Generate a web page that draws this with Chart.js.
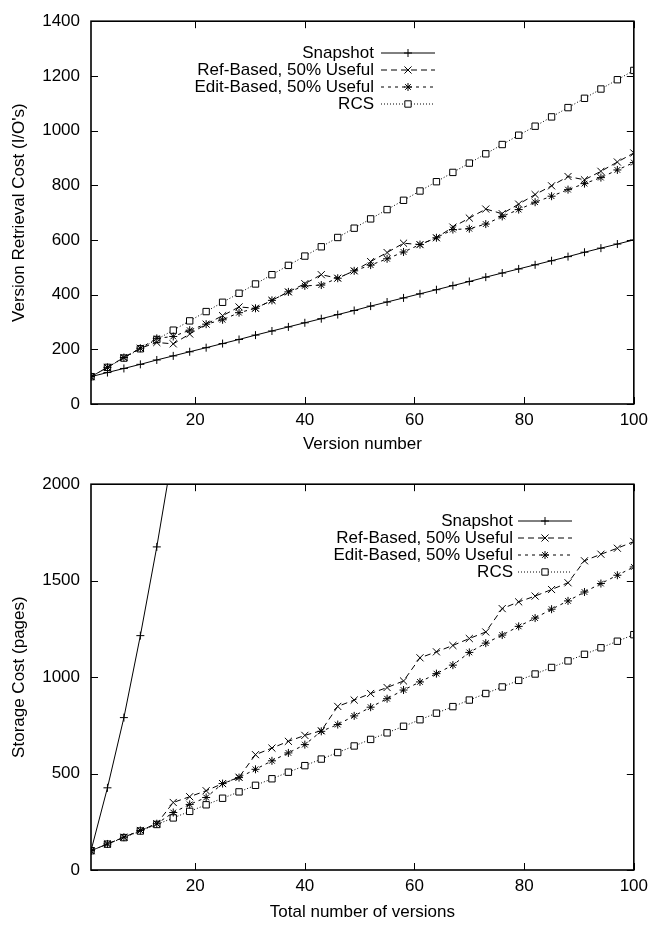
<!DOCTYPE html>
<html>
<head>
<meta charset="utf-8">
<script src="https://cdn.jsdelivr.net/npm/chart.js@4.4.0/dist/chart.umd.min.js"></script>
<style>
  html, body { margin: 0; padding: 0; background: #fff; }
  canvas { display: block; }
</style>
</head>
<body>
<canvas id="retrieval" width="654" height="463"></canvas>
<canvas id="storage" width="654" height="463"></canvas>
<script>
// Data (a marker every 3 versions)
const versions = [1, 4, 7, 10, 13, 16, 19, 22, 25, 28, 31, 34, 37, 40, 43, 46, 49, 52, 55, 58,
  61, 64, 67, 70, 73, 76, 79, 82, 85, 88, 91, 94, 97, 100];
const seriesNames = ["Snapshot", "Ref-Based, 50% Useful", "Edit-Based, 50% Useful", "RCS"];
const xTickValues = [20, 40, 60, 80, 100];

// Top panel: version retrieval cost (I/O's)
const snapshotRetrieval = [100, 115, 130, 145, 161, 176, 191, 206, 221, 236, 252, 267, 282, 297, 312, 327, 342, 358, 373, 388,
  403, 418, 433, 448, 464, 479, 494, 509, 524, 539, 555, 570, 585, 600];
const refRetrieval = [100, 134, 170, 204, 225, 220, 256, 292, 323, 355, 350, 379, 410, 440, 473, 460, 487, 521, 554, 588,
  583, 608, 647, 680, 713, 696, 731, 766, 798, 832, 820, 851, 885, 918];
const editRetrieval = [100, 134, 170, 204, 240, 247, 270, 292, 308, 334, 350, 379, 410, 432, 435, 460, 487, 508, 531, 556,
  583, 608, 638, 641, 658, 686, 711, 738, 760, 784, 806, 828, 856, 883];
const rcsRetrieval = [100, 134, 168, 202, 236, 270, 304, 338, 372, 405, 439, 473, 507, 541, 575, 609, 643, 677, 711, 745,
  779, 813, 847, 881, 915, 949, 983, 1016, 1050, 1084, 1118, 1152, 1186, 1220];

// Bottom panel: storage cost (pages)
const snapshotStorage = [100, 426, 790, 1215, 1675, 2180];
const refStorage = [100, 135, 170, 205, 240, 350, 380, 411, 448, 481, 598, 632, 667, 698, 722, 848, 881, 915, 946, 980,
  1100, 1131, 1164, 1200, 1234, 1355, 1390, 1420, 1454, 1489, 1603, 1637, 1668, 1703];
const editStorage = [100, 135, 170, 205, 240, 298, 340, 376, 448, 479, 522, 566, 607, 650, 719, 754, 799, 844, 888, 933,
  975, 1018, 1062, 1128, 1176, 1218, 1263, 1306, 1352, 1395, 1441, 1485, 1528, 1571];
const rcsStorage = [100, 134, 168, 202, 236, 270, 304, 338, 372, 405, 439, 473, 507, 541, 575, 609, 643, 677, 711, 745,
  779, 813, 847, 881, 915, 949, 983, 1016, 1050, 1084, 1118, 1152, 1186, 1220];

const FONT = "'Liberation Sans', Arial, sans-serif";
Chart.defaults.font.family = FONT;
Chart.defaults.font.size = 17;
Chart.defaults.color = "#000";

// line / marker look of each series (gnuplot lt 1..4)
const looks = [
  { borderDash: [], pointStyle: "cross", pointRadius: 4, pointBackgroundColor: "#000" },
  { borderDash: [6, 4], pointStyle: "crossRot", pointRadius: 5, pointBackgroundColor: "#000" },
  { borderDash: [3, 4], pointStyle: "star", pointRadius: 4, pointBackgroundColor: "#000" },
  { borderDash: [1, 2], pointStyle: "rect", pointRadius: 4.5, pointBackgroundColor: "#fff" },
];

function makeSet(i, ys) {
  return Object.assign({
    label: seriesNames[i],
    data: ys.map((y, k) => ({ x: versions[k], y: y })),
    borderColor: "#000",
    borderWidth: 1,
    pointBorderColor: "#000",
    pointBorderWidth: 1,
    pointHoverRadius: 0,
    fill: false,
    tension: 0,
  }, looks[i]);
}

// gnuplot style key: text right aligned, sample line with marker on its right
const keyPlugin = {
  id: "gnuKey",
  afterDatasetsDraw(chart, args, opts) {
    const ctx = chart.ctx;
    ctx.save();
    chart.data.datasets.forEach((ds, i) => {
      const y = opts.top + i * opts.step;
      ctx.font = "17px " + FONT;
      ctx.fillStyle = "#000";
      ctx.textAlign = "right";
      ctx.textBaseline = "middle";
      ctx.fillText(ds.label, opts.textRight, y);
      ctx.strokeStyle = "#000";
      ctx.lineWidth = 1;
      ctx.setLineDash(ds.borderDash);
      ctx.beginPath();
      ctx.moveTo(opts.lineStart, y);
      ctx.lineTo(opts.lineEnd, y);
      ctx.stroke();
      ctx.setLineDash([]);
      ctx.fillStyle = ds.pointBackgroundColor;
      Chart.helpers.drawPoint(ctx, {
        pointStyle: ds.pointStyle, radius: ds.pointRadius, borderWidth: 1, rotation: 0,
      }, (opts.lineStart + opts.lineEnd) / 2, y);
    });
    ctx.restore();
  },
};

// full border box with inward ticks on all four sides
const framePlugin = {
  id: "gnuFrame",
  afterDatasetsDraw(chart) {
    const { ctx, chartArea: a, scales } = chart;
    const len = 7;
    ctx.save();
    ctx.strokeStyle = "#000";
    ctx.lineWidth = 1;
    ctx.beginPath();
    scales.x.ticks.forEach((t) => {
      const px = Math.round(scales.x.getPixelForValue(t.value)) + 0.5;
      ctx.moveTo(px, a.bottom); ctx.lineTo(px, a.bottom - len);
      ctx.moveTo(px, a.top); ctx.lineTo(px, a.top + len);
    });
    scales.y.ticks.forEach((t) => {
      const py = Math.round(scales.y.getPixelForValue(t.value)) + 0.5;
      ctx.moveTo(a.left, py); ctx.lineTo(a.left + len, py);
      ctx.moveTo(a.right, py); ctx.lineTo(a.right - len, py);
    });
    ctx.stroke();
    ctx.lineWidth = 1.6;
    ctx.strokeRect(a.left, a.top, a.right - a.left, a.bottom - a.top);
    ctx.restore();
  },
};

function makeChart(id, cfg) {
  return new Chart(document.getElementById(id), {
    type: "line",
    data: { datasets: cfg.datasets },
    options: {
      responsive: false,
      animation: false,
      events: [],
      layout: { padding: { top: cfg.padTop, right: 18, left: 0, bottom: 0 } },
      plugins: {
        legend: { display: false },
        tooltip: { enabled: false },
        gnuKey: cfg.key,
      },
      scales: {
        x: {
          type: "linear",
          min: 1,
          max: 100,
          afterBuildTicks: (s) => { s.ticks = xTickValues.map((v) => ({ value: v })); },
          afterFit: (s) => { s.height = cfg.xHeight; },
          grid: { display: false, drawTicks: false },
          border: { display: false },
          ticks: { padding: 6, maxRotation: 0, autoSkip: false, callback: (v) => String(v) },
          title: { display: true, text: cfg.xTitle, padding: { top: 0, bottom: cfg.xTitlePad } },
        },
        y: {
          min: 0,
          max: cfg.yMax,
          afterFit: (s) => { s.width = 91; },
          grid: { display: false, drawTicks: false },
          border: { display: false },
          ticks: { stepSize: cfg.yStep, padding: 11, callback: (v) => String(v) },
          title: { display: true, text: cfg.yTitle, padding: { top: 9, bottom: 0 } },
        },
      },
    },
    plugins: [framePlugin, keyPlugin],
  });
}

makeChart("retrieval", {
  datasets: [
    makeSet(0, snapshotRetrieval),
    makeSet(1, refRetrieval),
    makeSet(2, editRetrieval),
    makeSet(3, rcsRetrieval),
  ],
  padTop: 15,
  xHeight: 59,
  xTitle: "Version number",
  xTitlePad: 8,
  yTitle: "Version Retrieval Cost (I/O's)",
  yMax: 1400,
  yStep: 200,
  key: { top: 53, step: 17, textRight: 374, lineStart: 381, lineEnd: 435 },
});

makeChart("storage", {
  datasets: [
    makeSet(0, snapshotStorage),
    makeSet(1, refStorage),
    makeSet(2, editStorage),
    makeSet(3, rcsStorage),
  ],
  padTop: 20,
  xHeight: 56,
  xTitle: "Total number of versions",
  xTitlePad: 3,
  yTitle: "Storage Cost (pages)",
  yMax: 2000,
  yStep: 500,
  key: { top: 58, step: 17, textRight: 513, lineStart: 518, lineEnd: 572 },
});
</script>
</body>
</html>
